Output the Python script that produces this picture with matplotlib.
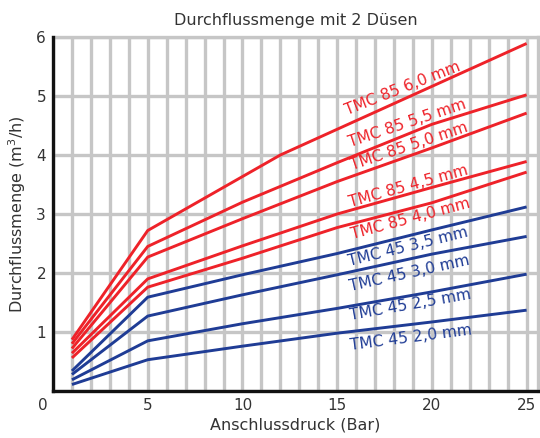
import matplotlib
matplotlib.use('Agg')
import matplotlib.pyplot as plt
from matplotlib.transforms import ScaledTranslation

# Anschlussdruck (Bar) und Durchflussmenge (m3/h)
druck_60 = [1, 5, 12, 25]
druck = [1, 5, 10, 15, 20, 25]

tmc85_60 = [0.87, 2.72, 4.00, 5.89]
tmc85_55 = [0.80, 2.45, 3.20, 3.87, 4.52, 5.02]
tmc85_50 = [0.72, 2.27, 2.92, 3.55, 4.12, 4.71]
tmc85_45 = [0.64, 1.90, 2.46, 3.00, 3.45, 3.89]
tmc85_40 = [0.56, 1.76, 2.25, 2.77, 3.19, 3.71]
tmc45_35 = [0.34, 1.59, 1.97, 2.33, 2.73, 3.12]
tmc45_30 = [0.28, 1.27, 1.63, 1.97, 2.32, 2.62]
tmc45_25 = [0.19, 0.85, 1.14, 1.40, 1.68, 1.98]
tmc45_20 = [0.11, 0.53, 0.76, 0.98, 1.17, 1.37]

namen = ['TMC 85 6,0 mm', 'TMC 85 5,5 mm', 'TMC 85 5,0 mm', 'TMC 85 4,5 mm',
         'TMC 85 4,0 mm', 'TMC 45 3,5 mm', 'TMC 45 3,0 mm', 'TMC 45 2,5 mm',
         'TMC 45 2,0 mm']

x_ticks = [0, 5, 10, 15, 20, 25]
y_ticks = [1, 2, 3, 4, 5, 6]

RED = '#ee2229'
BLUE = '#1f3c95'
GRID = '#c6c6c6'
TXT = '#333333'

serien = [
    (druck_60, tmc85_60, RED),
    (druck, tmc85_55, RED),
    (druck, tmc85_50, RED),
    (druck, tmc85_45, RED),
    (druck, tmc85_40, RED),
    (druck, tmc45_35, BLUE),
    (druck, tmc45_30, BLUE),
    (druck, tmc45_25, BLUE),
    (druck, tmc45_20, BLUE),
]

# label placement: baseline start in data coords, angle in degrees
label_pos = [(15.55, 4.68, 21.5), (15.72, 4.14, 18.5), (15.8, 3.75, 18.5),
             (15.72, 3.12, 15.5), (15.8, 2.58, 15), (15.63, 2.11, 14),
             (15.72, 1.69, 12.5), (15.72, 1.20, 10), (15.72, 0.70, 7.3)]

fig = plt.figure(figsize=(5.4, 4.38), dpi=100)
ax = fig.add_axes([53/540, 1 - 391/438, 485/540, 354/438])

for xs, ys, c in serien:
    ax.plot(xs, ys, color=c, lw=2.1, solid_capstyle='butt', zorder=3)

for (lx, ly, ang), name, (_, _, c) in zip(label_pos, namen, serien):
    ax.text(lx, ly, name, color=c, fontsize=11.2, rotation=ang,
            rotation_mode='anchor', ha='left', va='baseline', zorder=4)

ax.set_xlim(0, 25.6)
ax.set_ylim(0, 6)

ax.set_xticks(range(0, 26))
ax.set_xticklabels([str(v) if v in x_ticks else '' for v in range(0, 26)])
ax.set_yticks(range(0, 7))
ax.set_yticklabels([str(v) if v in y_ticks else '' for v in range(0, 7)])
ax.tick_params(length=0, labelsize=11, labelcolor=TXT, pad=5)

lbl0 = ax.get_xticklabels()[0]
lbl0.set_transform(lbl0.get_transform() + ScaledTranslation(-0.1, 0, fig.dpi_scale_trans))

ax.grid(True, color=GRID, lw=2.4, zorder=0)
ax.set_axisbelow(True)

for s in ['left', 'bottom']:
    ax.spines[s].set_color('#111111')
    ax.spines[s].set_linewidth(2.4)
    ax.spines[s].set_zorder(5)
for s in ['top', 'right']:
    ax.spines[s].set_color(GRID)
    ax.spines[s].set_linewidth(2.4)

ax.set_xlabel('Anschlussdruck (Bar)', fontsize=11.5, color=TXT, labelpad=3)
ax.set_ylabel('Durchflussmenge (m$^3$/h)', fontsize=11.5, color=TXT, labelpad=6)
ax.set_title('Durchflussmenge mit 2 Düsen', fontsize=11.5, color=TXT, pad=9)

fig.savefig('out.png', dpi=100)
